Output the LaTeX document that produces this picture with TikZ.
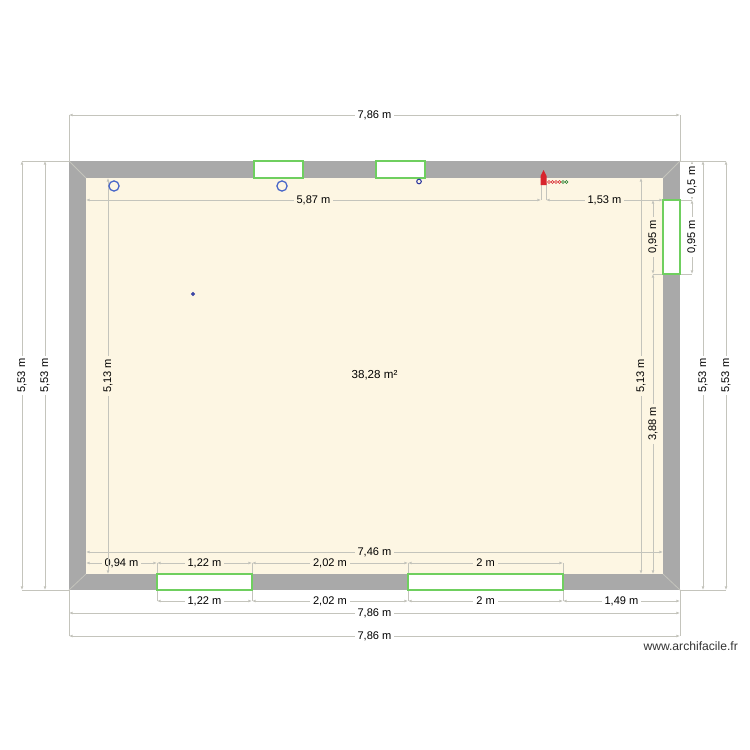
\documentclass[tikz,border=0pt]{standalone}
\usepackage{fontspec}
\setmainfont{Liberation Sans}
\usetikzlibrary{arrows.meta,calc}
\definecolor{wallgray}{HTML}{A9A9A9}
\definecolor{floorcream}{HTML}{FDF6E3}
\definecolor{dimgray}{HTML}{C4C4BC}
\definecolor{wingreen}{HTML}{6FCF5F}
\definecolor{plugblue}{HTML}{4463C8}
\definecolor{spotblue}{HTML}{2A35A0}
\definecolor{socketred}{HTML}{D8242C}
\definecolor{socketgreen}{HTML}{1E7A26}
\tikzset{
  dimline/.style={draw=dimgray, line width=0.45pt, {Latex[length=2pt,width=1.6pt]}-{Latex[length=2pt,width=1.6pt]}},
  dimext/.style={draw=dimgray, line width=0.45pt},
  dimlabel/.style={inner sep=1.6pt, font=\fontsize{6.3}{7}\selectfont, text=black},
  window/.style={draw=wingreen, fill=white, line width=0.6pt},
  plug/.style={circle, draw=plugblue, fill=none, line width=0.7pt, inner sep=0, minimum size=5.8pt},
  spot/.style={circle, draw=spotblue, fill=none, line width=0.6pt, inner sep=0, minimum size=2.6pt},
  socket/.style={circle, draw=#1, fill=none, line width=0.35pt, inner sep=0, minimum size=1.7pt},
}
\begin{document}
\begin{tikzpicture}[x=0.02cm,y=-0.02cm]
    \useasboundingbox (0,0) rectangle (750,750);
    % Walls and floor
    \fill[wallgray] (69,161) rectangle (680,590);
    \fill[floorcream] (86,178) rectangle (663,574);
    % Corner joints
    \foreach \ax/\ay/\bx/\by in {69/161/86/178, 680/161/663/178, 69/590/86/574, 680/590/663/574}
        \draw[dimext] (\ax,\ay) -- (\bx,\by);
    % Extension lines
    \draw[dimext] (69,115) -- (69,161);
    \draw[dimext] (680,115) -- (680,161);
    \draw[dimext] (69,590) -- (69,636);
    \draw[dimext] (680,590) -- (680,636);
    \draw[dimext] (22,161) -- (69,161);
    \draw[dimext] (22,590) -- (69,590);
    \draw[dimext] (680,161) -- (726,161);
    \draw[dimext] (680,590) -- (726,590);
    \draw[dimext] (663,200) -- (692,200);
    \draw[dimext] (653,274) -- (692,274);
    \draw[dimext] (541,183) -- (541,200);
    \draw[dimext] (546,183) -- (546,200);
    \foreach \x in {157,252,408,563} {
        \draw[dimext] (\x,590) -- (\x,601);
        \draw[dimext] (\x,563) -- (\x,574);
    }
    % Windows
    \foreach \ax/\ay/\bx/\by in {254/161/303/178, 376/161/425/178, 663/200/680/274, 157/574/252/590, 408/574/563/590}
        \draw[window] (\ax,\ay) rectangle (\bx,\by);
    % Horizontal dimensions
    \foreach \name/\ax/\bx/\y/\bg/\txt in {
        dtop/69/680/115/white/{7,86 m}, dfloor/86/663/552/floorcream/{7,46 m},
        dsplita/86/541/200/floorcream/{5,87 m}, dsplitb/546/663/200/floorcream/{1,53 m},
        dina/86/157/563/floorcream/{0,94 m}, dinb/157/252/563/floorcream/{1,22 m},
        dinc/252/408/563/floorcream/{2,02 m}, dind/408/563/563/floorcream/{2 m},
        doutb/157/252/601/white/{1,22 m}, doutc/252/408/601/white/{2,02 m},
        doutd/408/563/601/white/{2 m}, doute/563/680/601/white/{1,49 m},
        dbota/69/680/613/white/{7,86 m}, dbotb/69/680/636/white/{7,86 m}} {
        \coordinate (\name a) at (\ax,\y);
        \coordinate (\name b) at (\bx,\y);
        \draw[dimline] (\name a) -- (\name b);
        \node[dimlabel, fill=\bg] (\name) at ($(\name a)!0.5!(\name b)$) {\txt};
    }
    % Vertical dimensions
    \foreach \name/\x/\ay/\by/\bg/\txt in {
        dlefta/22/161/590/white/{5,53 m}, dleftb/45/161/590/white/{5,53 m},
        drighta/703/161/590/white/{5,53 m}, drightb/726/161/590/white/{5,53 m},
        dinl/108/178/574/floorcream/{5,13 m}, dinr/641/178/574/floorcream/{5,13 m},
        dwina/653/200/274/floorcream/{0,95 m}, dwinb/653/274/574/floorcream/{3,88 m},
        dwinc/692/161/200/white/{0,5 m}, dwind/692/200/274/white/{0,95 m}} {
        \coordinate (\name a) at (\x,\ay);
        \coordinate (\name b) at (\x,\by);
        \draw[dimline] (\name a) -- (\name b);
        \node[dimlabel, fill=\bg, rotate=90] (\name) at ($(\name a)!0.5!(\name b)$) {\txt};
    }
    % Plugs and spots
    \node[plug] (pluga) at (114,186) {};
    \node[plug] (plugb) at (282,186) {};
    \node[spot] (spota) at (419,181.5) {};
    \node[spot, minimum size=1.6pt] (spotb) at (193,294) {};
    % Red board and its sockets
    \fill[socketred] (540.5,185) -- (540.5,176) -- (543.5,170) -- (546.5,176) -- (546.5,185) -- cycle;
    \foreach \x/\c in {549/socketred, 552.5/socketred, 556/socketred, 559.5/socketred, 563/socketgreen, 566.5/socketgreen}
        \node[socket=\c] at (\x,182) {};
    % Area and site name
    \node[dimlabel, font=\fontsize{6.6}{8}\selectfont] (area) at (374.5,375) {38,28 m²};
    \node[dimlabel, anchor=east, font=\fontsize{6.9}{8}\selectfont, text=black!80] (site) at (741,646) {www.archifacile.fr};
\end{tikzpicture}
\end{document}
